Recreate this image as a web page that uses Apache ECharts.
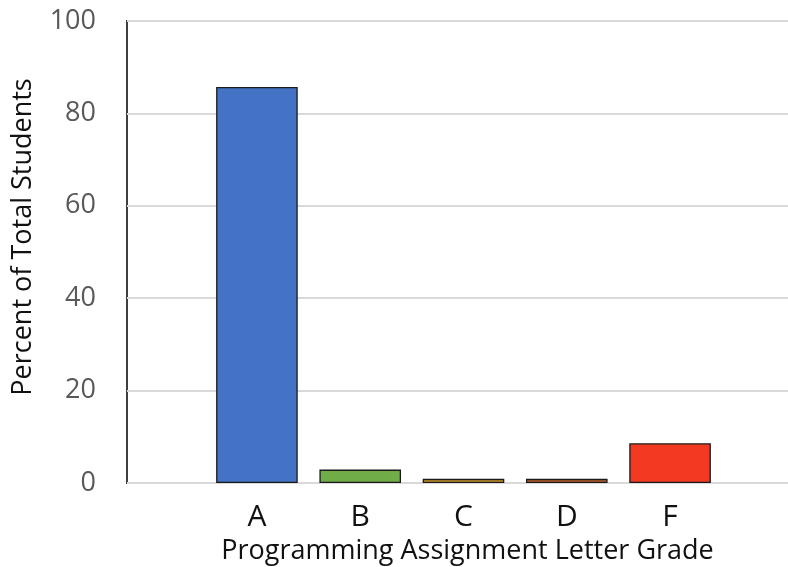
<!DOCTYPE html>
<html>
<head>
<meta charset="utf-8">
<script src="https://cdn.jsdelivr.net/npm/echarts@6/dist/echarts.min.js"></script>
<style>
  html, body { margin: 0; padding: 0; background: #fff; }
  #chart { width: 788px; height: 567px; }
</style>
</head>
<body>
<div id="chart"></div>
<script>
// Grade distribution for the programming assignment
const grades = ['A', 'B', 'C', 'D', 'F'];
const percents = [85.7, 2.9, 0.9, 0.9, 8.6];
const gradeColors = ['#4472C4', '#70AD47', '#C9962A', '#B85F2C', '#F23A22'];
const yTicks = { min: 0, max: 100, interval: 20 };

// Category slots: one empty slot before and after the graded slots
const slots = [''].concat(grades, ['']);
const slotValues = [null].concat(
  percents.map((v, i) => ({ value: v, itemStyle: { color: gradeColors[i] } })),
  [null]
);

const FONT = '"Open Sans", sans-serif';
const chart = echarts.init(document.getElementById('chart'), null, { renderer: 'canvas' });

chart.setOption({
  animation: false,
  backgroundColor: '#ffffff',
  grid: [
    // frame with gridlines and value axis
    { left: 127, top: 21, bottom: 84, right: -40, show: true, outerBoundsMode: 'none',
      borderColor: '#3f3f3f', borderWidth: 2, backgroundColor: 'transparent' },
    // bar layout
    { left: 102, top: 21, bottom: 84, right: -37, outerBoundsMode: 'none' }
  ],
  xAxis: [
    { gridIndex: 0, type: 'value', show: false, min: 0, max: 1 },
    {
      gridIndex: 1, type: 'category', data: slots,
      axisLine: { show: false }, axisTick: { show: false },
      axisLabel: { color: '#111', fontFamily: FONT, fontSize: 30, margin: 19 },
      name: 'Programming Assignment Letter Grade',
      nameLocation: 'middle', nameGap: 55,
      nameTextStyle: { color: '#111', fontFamily: FONT, fontSize: 27, padding: [0, 0, 0, 8] }
    }
  ],
  yAxis: [
    {
      gridIndex: 0, type: 'value', min: yTicks.min, max: yTicks.max, interval: yTicks.interval,
      axisLine: { show: false }, axisTick: { show: false },
      axisLabel: { color: '#595959', fontFamily: FONT, fontSize: 27, margin: 31 },
      splitLine: { lineStyle: { color: '#d9d9d9', width: 2 } },
      name: 'Percent of Total Students', nameLocation: 'middle', nameGap: 90,
      nameTextStyle: { color: '#111', fontFamily: FONT, fontSize: 27, padding: [0, 0, 0, 30] }
    },
    { gridIndex: 1, type: 'value', min: yTicks.min, max: yTicks.max, show: false }
  ],
  series: [{
    type: 'bar', xAxisIndex: 1, yAxisIndex: 1,
    data: slotValues,
    barCategoryGap: '21%',
    itemStyle: { borderColor: '#1a1a1a', borderWidth: 1.3 },
    z: 5
  }]
});
</script>
</body>
</html>
